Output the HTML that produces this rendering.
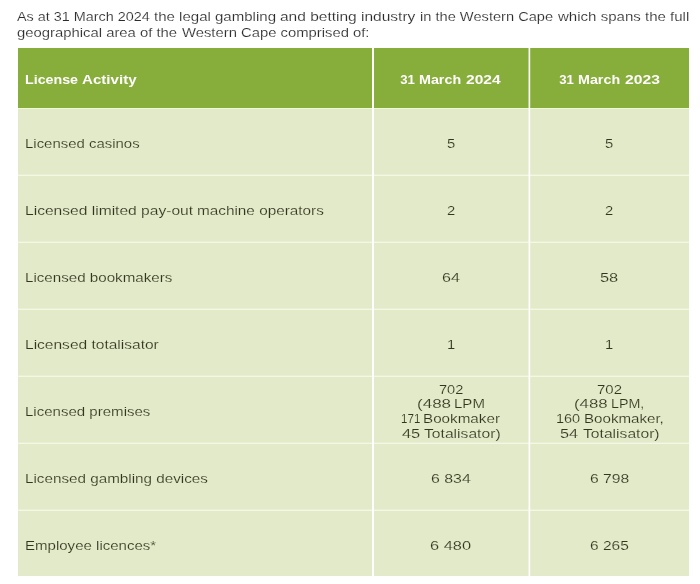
<!DOCTYPE html>
<html lang='en'><head><meta charset='utf-8'><title>License Activity</title><style>
html,body{margin:0;padding:0;background:#fff}
#page{position:relative;width:700px;height:584px;overflow:hidden;background:#fff;font-family:"Liberation Sans", Arial, sans-serif;font-size:13.2px;line-height:1}
p{margin:0;height:0}
.t{position:absolute;white-space:pre;transform-origin:0 0;line-height:1;margin:0;font-weight:400;color:#33361f}
td .t{-webkit-text-stroke:0.15px #e3eaca}
p .t{color:#2c2c2c;-webkit-text-stroke:0.15px #fff}
th .t{font-weight:700;color:#fff}
table{margin:48px 0 0 18px;width:671px;height:528px;border-collapse:collapse;border-spacing:0;table-layout:fixed}
th,td{padding:0;margin:0;border:0;font-weight:400}
thead tr{height:60px;background:#87ad3a}
tbody tr{height:67px;background:#e3eaca}
tbody tr:last-child{height:66px}
.ln{position:absolute;left:18px;width:671px;height:1px}
.vl{position:absolute;top:48px;height:528px}
</style></head>
<body><div id='page'>
<p><span class='t' style='left:16.92px;top:10px;transform:scaleX(1.0912)'>As at 31 March 2024</span> <span class='t' style='left:154.46px;top:10px;transform:scaleX(1.1397)'>the legal gambling</span> <span class='t' style='left:280.31px;top:10px;transform:scaleX(1.1755)'>and betting industry</span> <span class='t' style='left:419.83px;top:10px;transform:scaleX(1.1098)'>in the Western Cape</span> <span class='t' style='left:557.97px;top:10px;transform:scaleX(1.1409)'>which spans the full</span>
<span class='t' style='left:16.59px;top:26px;transform:scaleX(1.1257)'>geographical area of the</span> <span class='t' style='left:182.11px;top:26px;transform:scaleX(1.1235)'>Western Cape comprised of:</span></p>
<table><colgroup><col style='width:355px'><col style='width:156px'><col style='width:160px'></colgroup>
<thead><tr><th><span class='t' style='left:25.00px;top:73px;transform:scaleX(1.0795)'>License</span> <span class='t' style='left:81.98px;top:73px;transform:scaleX(1.1461)'>Activity</span></th><th><span class='t' style='left:400.24px;top:73px;transform:scaleX(1.0000)'>31</span> <span class='t' style='left:419.00px;top:73px;transform:scaleX(1.0842)'>March</span> <span class='t' style='left:466.35px;top:73px;transform:scaleX(1.1801)'>2024</span></th><th><span class='t' style='left:559.24px;top:73px;transform:scaleX(1.0000)'>31</span> <span class='t' style='left:578.00px;top:73px;transform:scaleX(1.0842)'>March</span> <span class='t' style='left:624.55px;top:73px;transform:scaleX(1.1906)'>2023</span></th></tr></thead><tbody>
<tr><td><span class='t' style='left:25.00px;top:137px;transform:scaleX(1.1333)'>Licensed casinos</span></td><td><span class='t' style='left:446.99px;top:137px;transform:scaleX(1.1200)'>5</span></td><td><span class='t' style='left:605.44px;top:137px;transform:scaleX(1.1200)'>5</span></td></tr>
<tr><td><span class='t' style='left:24.50px;top:204px;transform:scaleX(1.1821)'>Licensed limited pay-out</span> <span class='t' style='left:196.88px;top:204px;transform:scaleX(1.1614)'>machine operators</span></td><td><span class='t' style='left:447.11px;top:204px;transform:scaleX(1.1200)'>2</span></td><td><span class='t' style='left:604.91px;top:204px;transform:scaleX(1.1200)'>2</span></td></tr>
<tr><td><span class='t' style='left:24.75px;top:271px;transform:scaleX(1.1481)'>Licensed bookmakers</span></td><td><span class='t' style='left:442.00px;top:271px;transform:scaleX(1.2208)'>64</span></td><td><span class='t' style='left:600.41px;top:271px;transform:scaleX(1.2433)'>58</span></td></tr>
<tr><td><span class='t' style='left:24.77px;top:338px;transform:scaleX(1.1775)'>Licensed totalisator</span></td><td><span class='t' style='left:447.20px;top:338px;transform:scaleX(1.1200)'>1</span></td><td><span class='t' style='left:605.40px;top:338px;transform:scaleX(1.1200)'>1</span></td></tr>
<tr><td><span class='t' style='left:24.71px;top:405px;transform:scaleX(1.1403)'>Licensed premises</span></td><td><span class='t' style='left:439.12px;top:383px;transform:scaleX(1.1062)'>702</span> <span class='t' style='left:417.06px;top:397px;transform:scaleX(1.2911)'>(488</span> <span class='t' style='left:454.21px;top:397px;transform:scaleX(1.1400)'>LPM</span> <span class='t' style='left:401.04px;top:412px;transform:scaleX(0.8800)'>171</span> <span class='t' style='left:422.66px;top:412px;transform:scaleX(1.1538)'>Bookmaker</span> <span class='t' style='left:401.77px;top:427px;transform:scaleX(1.2423)'>45</span> <span class='t' style='left:424.08px;top:427px;transform:scaleX(1.1879)'>Totalisator)</span></td><td><span class='t' style='left:597.02px;top:383px;transform:scaleX(1.1337)'>702</span> <span class='t' style='left:574.09px;top:397px;transform:scaleX(1.2732)'>(488</span> <span class='t' style='left:610.94px;top:397px;transform:scaleX(1.0820)'>LPM,</span> <span class='t' style='left:556.09px;top:412px;transform:scaleX(1.0983)'>160</span> <span class='t' style='left:583.62px;top:412px;transform:scaleX(1.1463)'>Bookmaker,</span> <span class='t' style='left:560.33px;top:427px;transform:scaleX(1.2314)'>54</span> <span class='t' style='left:582.54px;top:427px;transform:scaleX(1.1874)'>Totalisator)</span></td></tr>
<tr><td><span class='t' style='left:24.87px;top:472px;transform:scaleX(1.1551)'>Licensed gambling devices</span></td><td><span class='t' style='left:431.00px;top:472px;transform:scaleX(1.2063)'>6 834</span></td><td><span class='t' style='left:589.50px;top:472px;transform:scaleX(1.1904)'>6 798</span></td></tr>
<tr><td><span class='t' style='left:25.02px;top:539px;transform:scaleX(1.1401)'>Employee licences*</span></td><td><span class='t' style='left:430.00px;top:539px;transform:scaleX(1.2420)'>6 480</span></td><td><span class='t' style='left:590.20px;top:539px;transform:scaleX(1.1754)'>6 265</span></td></tr>
</tbody></table>
<div class='ln' style='top:108px;background:#ecfbd2'></div>
<div class='ln' style='top:174px;background:#e9eed6'></div><div class='ln' style='top:175px;background:#f3f8e1'></div>
<div class='ln' style='top:241px;background:#e9eed6'></div><div class='ln' style='top:242px;background:#f3f8e1'></div>
<div class='ln' style='top:308px;background:#e9eed6'></div><div class='ln' style='top:309px;background:#f3f8e1'></div>
<div class='ln' style='top:375px;background:#e9eed6'></div><div class='ln' style='top:376px;background:#f3f8e1'></div>
<div class='ln' style='top:442px;background:#e9eed6'></div><div class='ln' style='top:443px;background:#f3f8e1'></div>
<div class='ln' style='top:509px;background:#e9eed6'></div><div class='ln' style='top:510px;background:#f3f8e1'></div>
<div class='vl' style='left:372px;width:2px;background:#fff'></div>
<div class='vl' style='left:528px;width:1px;background:rgba(255,255,255,.45)'></div>
<div class='vl' style='left:529px;width:1px;background:#fff'></div>
<div class='vl' style='left:530px;width:1px;background:rgba(255,255,255,.2)'></div>
</div></body></html>
